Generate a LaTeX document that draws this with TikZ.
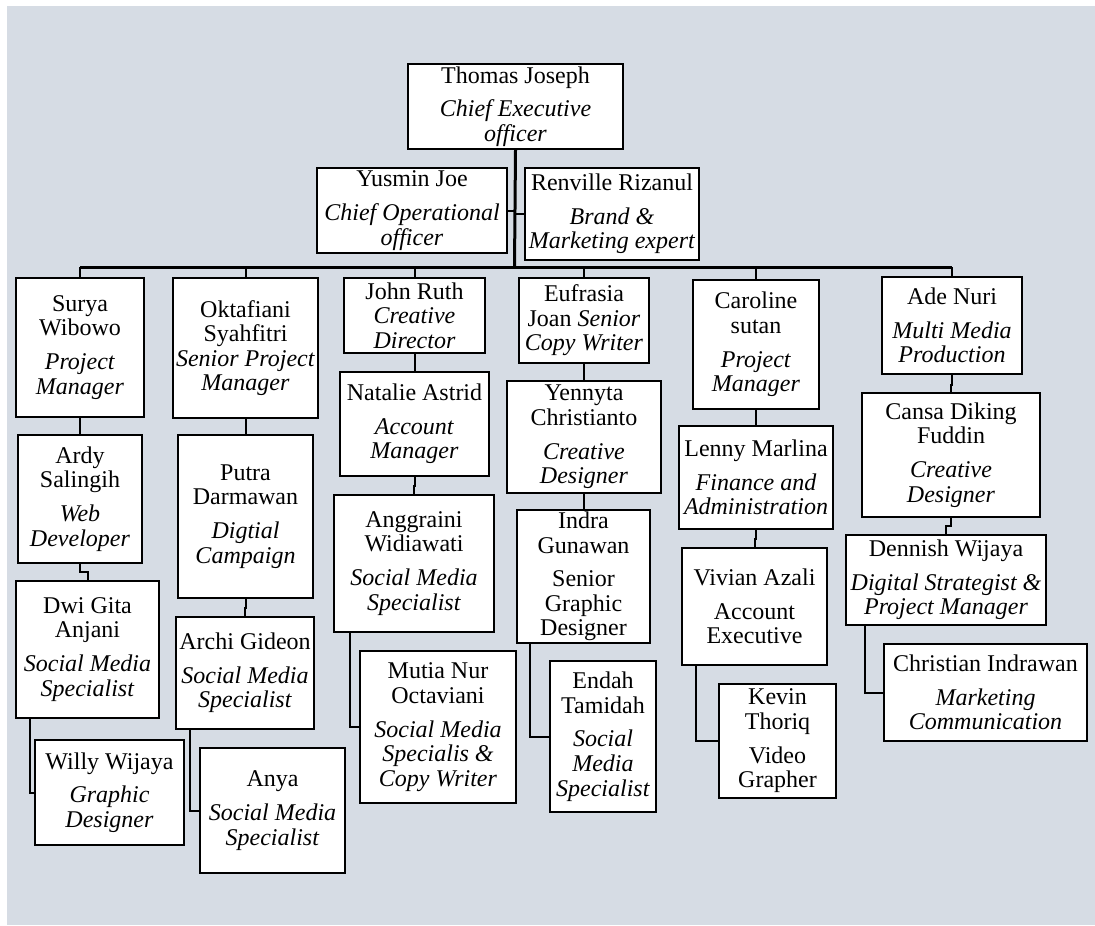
\documentclass[tikz,border=0pt]{standalone}
\usepackage{fontspec}
\setmainfont{Liberation Serif}
\definecolor{bgblue}{RGB}{214,220,228}
\tikzset{every picture/.style={line width=0.75pt}}
\tikzset{
  box/.style={draw, fill=white, line width=1.5pt, inner sep=0pt, align=center, anchor=north west, font=\fontsize{18}{18.4}\selectfont},
  link/.style={line width=1.5pt},
  trunk/.style={line width=2.25pt},
}
\newcommand{\namegap}{\\[7pt]}

\begin{document}
\begin{tikzpicture}[x=0.75pt,y=0.75pt,yscale=-1,xscale=1]
\useasboundingbox (0,0) rectangle (1095,925);
%background
\fill[bgblue] (7,6) rectangle (1095,925);

% Top management
\node[box, minimum width=161.25pt, minimum height=63.75pt] (ceo) at (407,63) {Thomas Joseph\namegap\textit{Chief Executive}\\\textit{officer}};
\node[box, minimum width=142.5pt, minimum height=63.75pt] (coo) at (316,167) {Yusmin Joe\namegap\textit{Chief Operational}\\\textit{officer}};
\node[box, minimum width=130.5pt, minimum height=69pt] (brand) at (524,167) {Renville Rizanul\namegap\textit{Brand \&}\\\textit{Marketing expert}};

% First row
\node[box, minimum width=96pt, minimum height=104.25pt] (surya) at (15,277) {Surya\\Wibowo\namegap\textit{Project}\\\textit{Manager}};
\node[box, minimum width=108.75pt, minimum height=105pt] (okt) at (172,277) {Oktafiani\\Syahfitri\\\textit{Senior Project}\\\textit{Manager}};
\node[box, minimum width=105.75pt, minimum height=56.25pt] (john) at (343,277) {John Ruth\\\textit{Creative}\\\textit{Director}};
\node[box, minimum width=97.5pt, minimum height=63.75pt] (eufrasia) at (518,277) {Eufrasia\\Joan \textit{Senior}\\\textit{Copy Writer}};
\node[box, minimum width=94.5pt, minimum height=96.75pt] (caroline) at (692,279) {Caroline\\sutan\namegap\textit{Project}\\\textit{Manager}};
\node[box, minimum width=105pt, minimum height=72.75pt] (ade) at (881,276) {Ade Nuri\namegap\textit{Multi Media}\\\textit{Production}};

% Column Surya
\node[box, minimum width=93pt, minimum height=96pt] (ardy) at (17,434) {Ardy\\Salingih\namegap\textit{Web}\\\textit{Developer}};
\node[box, minimum width=107.25pt, minimum height=102.75pt] (dwi) at (15,580) {Dwi Gita\\Anjani\namegap\textit{Social Media}\\\textit{Specialist}};
\node[box, minimum width=111.75pt, minimum height=78.75pt] (willy) at (34,739) {Willy Wijaya\namegap\textit{Graphic}\\\textit{Designer}};

% Column Oktafiani
\node[box, minimum width=101.25pt, minimum height=122.25pt] (putra) at (177,434) {Putra\\Darmawan\namegap\textit{Digtial}\\\textit{Campaign}};
\node[box, minimum width=103.5pt, minimum height=84pt] (archi) at (175,616) {Archi Gideon\namegap\textit{Social Media}\\\textit{Specialist}};
\node[box, minimum width=108.75pt, minimum height=93.75pt] (anya) at (199,747) {Anya\namegap\textit{Social Media}\\\textit{Specialist}};

% Column John
\node[box, minimum width=111.75pt, minimum height=78pt] (natalie) at (339,371) {Natalie Astrid\namegap\textit{Account}\\\textit{Manager}};
\node[box, minimum width=120pt, minimum height=102.75pt] (anggraini) at (333,494) {Anggraini\\Widiawati\namegap\textit{Social Media}\\\textit{Specialist}};
\node[box, minimum width=117pt, minimum height=114pt] (mutia) at (359,650) {Mutia Nur\\Octaviani\namegap\textit{Social Media}\\\textit{Specialis \&}\\\textit{Copy Writer}};

% Column Eufrasia
\node[box, minimum width=115.5pt, minimum height=84pt] (yennyta) at (506,380) {Yennyta\\Christianto\namegap\textit{Creative}\\\textit{Designer}};
\node[box, minimum width=99.75pt, minimum height=99.75pt] (indra) at (516,509) {Indra\\Gunawan\namegap Senior\\Graphic\\Designer};
\node[box, minimum width=79.5pt, minimum height=113.25pt] (endah) at (549,660) {Endah\\Tamidah\namegap\textit{Social}\\\textit{Media}\\\textit{Specialist}};

% Column Caroline
\node[box, minimum width=115.5pt, minimum height=77.25pt] (lenny) at (678,425) {Lenny Marlina\namegap\textit{Finance and}\\\textit{Administration}};
\node[box, minimum width=108.75pt, minimum height=87.75pt] (vivian) at (681,547) {Vivian Azali\namegap Account\\Executive};
\node[box, minimum width=87.75pt, minimum height=85.5pt] (kevin) at (718,683) {Kevin\\Thoriq\namegap Video\\Grapher};

% Column Ade
\node[box, minimum width=133.5pt, minimum height=93pt] (cansa) at (861,392) {Cansa Diking\\Fuddin\namegap\textit{Creative}\\\textit{Designer}};
\node[box, minimum width=150pt, minimum height=67.5pt] (dennish) at (845,534) {Dennish Wijaya\namegap\textit{Digital Strategist \&}\\\textit{Project Manager}};
\node[box, minimum width=152.25pt, minimum height=72.75pt] (christian) at (883,643) {Christian Indrawan\namegap\textit{Marketing}\\\textit{Communication}};

% Trunk and bus
\coordinate (bus) at (514.5,267);
\draw[trunk] (ceo.south) -- (bus);
\draw[link] (coo.east) -- (coo.east -| ceo.south);
\draw[link] (brand.west) -- (brand.west -| ceo.south);
\draw[trunk] (bus -| surya.north) -- (bus -| ade.north);
\foreach \n in {surya,okt,john,eufrasia,caroline,ade}
  \draw[link] (bus -| \n.north) -- (\n.north);

% Vertical links
\draw[link] (surya.south) -- ++(0,9) -| (ardy.north);
\draw[link] (ardy.south) -- ++(0,8) -| (dwi.north);
\draw[link] (okt.south) -- ++(0,8) -| (putra.north);
\draw[link] (putra.south) -- ++(0,9) -| (archi.north);
\draw[link] (john.south) -- ++(0,9) -| (natalie.north);
\draw[link] (natalie.south) -- ++(0,9) -| (anggraini.north);
\draw[link] (eufrasia.south) -- ++(0,9) -| (yennyta.north);
\draw[link] (yennyta.south) -- ++(0,8) -| (indra.north);
\draw[link] (caroline.south) -- ++(0,8) -| (lenny.north);
\draw[link] (lenny.south) -- ++(0,9) -| (vivian.north);
\draw[link] (ade.south) -- ++(0,10) -| (cansa.north);
\draw[link] (cansa.south) -- ++(0,8) -| (dennish.north);

% Side links
\draw[link] (dwi.south west) ++(15,0) |- (willy.west);
\draw[link] (archi.south west) ++(15,0) |- (anya.west);
\draw[link] (anggraini.south west) ++(17,0) |- (mutia.west);
\draw[link] (indra.south west) ++(14,0) |- (endah.west);
\draw[link] (vivian.south west) ++(15,0) |- (kevin.west);
\draw[link] (dennish.south west) ++(20,0) |- (christian.west);

\end{tikzpicture}
\end{document}
